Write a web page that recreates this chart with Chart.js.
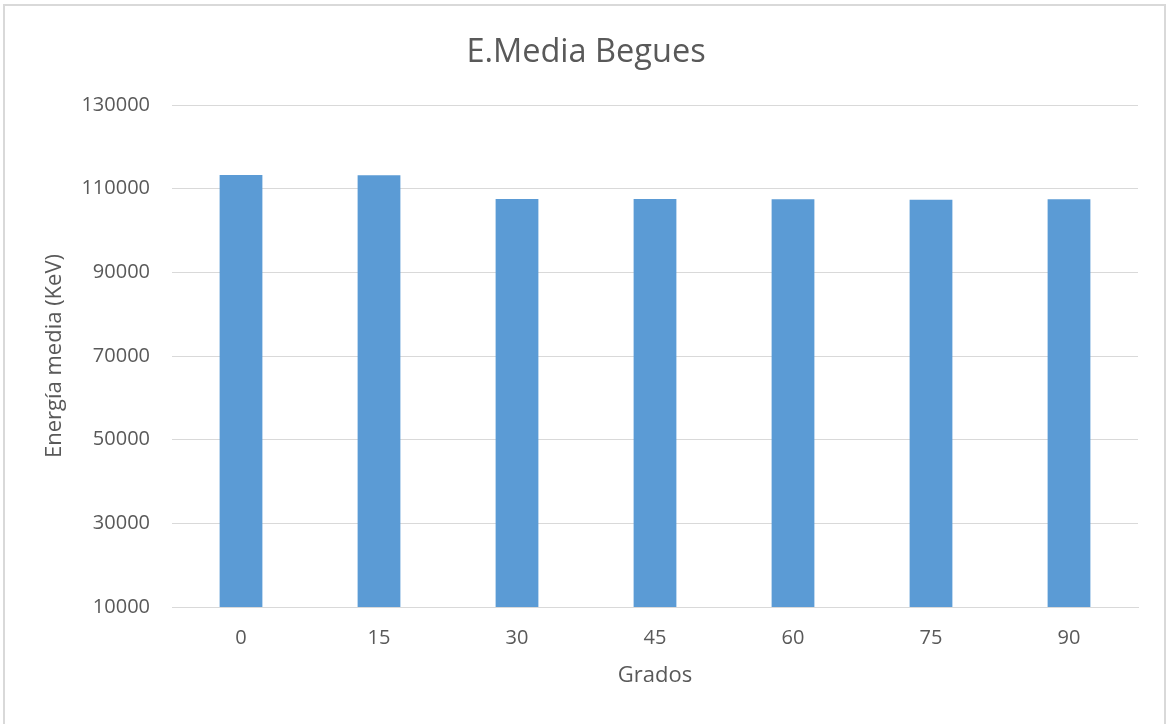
<!DOCTYPE html>
<html>
<head>
<meta charset="utf-8">
<script src="https://cdn.jsdelivr.net/npm/chart.js@4"></script>
<style>
  html, body { margin: 0; padding: 0; background: #ffffff; }
  #wrap { position: relative; width: 1167px; height: 724px; }
</style>
</head>
<body>
<div id="wrap"><canvas id="c" width="1167" height="724"></canvas></div>
<script>
const categories = ["0", "15", "30", "45", "60", "75", "90"];
const energyValues = [113280, 113200, 107550, 107530, 107450, 107380, 107480];
const yTicks = [10000, 30000, 50000, 70000, 90000, 110000, 130000];

const chartTitle = "E.Media Begues";
const xTitle = "Grados";
const yTitle = "Energía media (KeV)";

const textColor = "#595959";
const gridColor = "#d9d9d9";
const fontFamily = "'Open Sans', 'Liberation Sans', sans-serif";

const framePlugin = {
  id: 'frame',
  beforeDraw(chart) {
    const ctx = chart.ctx;
    ctx.save();
    ctx.fillStyle = '#ffffff';
    ctx.fillRect(0, 0, chart.width, chart.height);
    ctx.strokeStyle = gridColor;
    ctx.lineWidth = 2;
    ctx.beginPath();
    ctx.moveTo(4, 730);
    ctx.lineTo(4, 5);
    ctx.lineTo(1165, 5);
    ctx.lineTo(1165, 730);
    ctx.stroke();
    ctx.restore();
  }
};

new Chart(document.getElementById('c'), {
  type: 'bar',
  data: {
    labels: categories,
    datasets: [{
      label: yTitle,
      data: energyValues,
      backgroundColor: '#5b9bd5',
      borderWidth: 0,
      categoryPercentage: 1.0,
      barPercentage: 0.31
    }]
  },
  options: {
    responsive: false,
    animation: false,
    devicePixelRatio: 1,
    layout: { padding: { left: 34, right: 29, top: 0, bottom: 0 } },
    plugins: {
      legend: { display: false },
      tooltip: { enabled: false },
      title: {
        display: true,
        text: chartTitle,
        color: textColor,
        font: { family: fontFamily, size: 32.5, weight: 'normal' },
        padding: { top: 33, bottom: 33 }
      }
    },
    scales: {
      x: {
        grid: { display: false, drawTicks: false },
        border: { display: true, color: gridColor, width: 1 },
        ticks: {
          color: textColor,
          font: { family: fontFamily, size: 20 },
          padding: 19,
          maxRotation: 0
        },
        title: {
          display: true,
          text: xTitle,
          color: textColor,
          font: { family: fontFamily, size: 22 },
          padding: { top: 0, bottom: 35 }
        },
        afterFit(scale) { scale.height = 117; }
      },
      y: {
        min: 10000,
        max: 130000,
        afterBuildTicks(scale) { scale.ticks = yTicks.map(v => ({ value: v })); },
        grid: { color: gridColor, lineWidth: 1, drawTicks: false },
        border: { display: false },
        ticks: {
          color: textColor,
          font: { family: fontFamily, size: 20 },
          padding: 22,
          callback: (v) => String(v)
        },
        title: {
          display: true,
          text: yTitle,
          color: textColor,
          font: { family: fontFamily, size: 22 },
          padding: { top: 8, bottom: 0 }
        },
        afterFit(scale) { scale.width = 138; }
      }
    }
  },
  plugins: [framePlugin]
});
</script>
</body>
</html>
